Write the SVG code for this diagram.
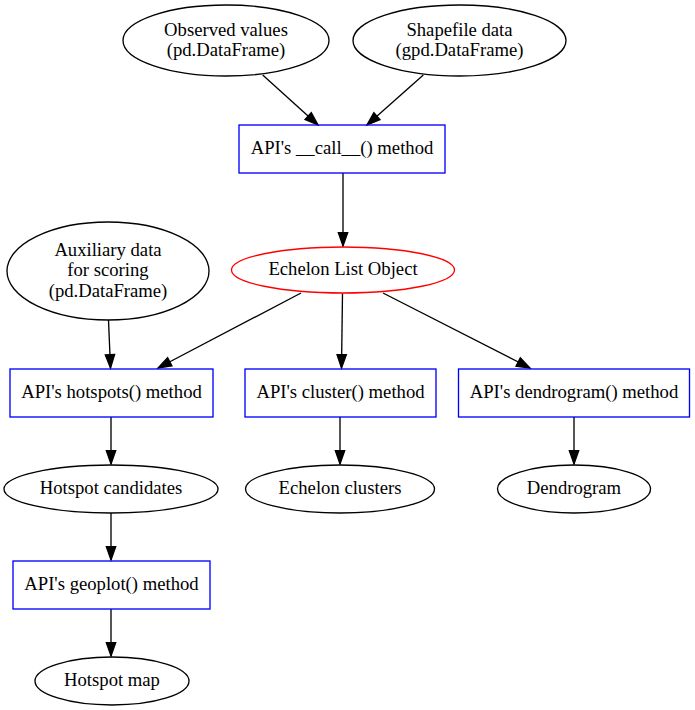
<svg xmlns="http://www.w3.org/2000/svg" width="695" height="710" viewBox="0 0 695 710">
<style>
text{font-family:"Liberation Serif","Times New Roman",serif;font-size:18.67px;text-anchor:middle;fill:#000}
.e{fill:none;stroke:#000;stroke-width:1.33}
.b{fill:none;stroke:#0000ff;stroke-width:1.33}
.r{fill:none;stroke:#ff0000;stroke-width:1.33}
.c line{stroke:#000;stroke-width:1.33;marker-end:url(#ah)}
</style>
<defs>
<marker id="ah" markerUnits="userSpaceOnUse" markerWidth="16" markerHeight="12" refX="13.3" refY="4.67" orient="auto" overflow="visible">
<path d="M0,0 L13.3,4.67 L0,9.33 Z" fill="#000" stroke="#000" stroke-width="1.33" stroke-linejoin="miter"/>
</marker>
</defs>
<rect width="695" height="710" fill="#fff"/>
<g class="c" id="connectors">
<line x1="262.7" y1="75" x2="318" y2="125"/>
<line x1="423.3" y1="75" x2="367" y2="125"/>
<line x1="343" y1="173" x2="343" y2="246"/>
<line x1="108.5" y1="320" x2="110.5" y2="368"/>
<line x1="301" y1="293" x2="158" y2="368"/>
<line x1="342.5" y1="293.5" x2="341.5" y2="368"/>
<line x1="383" y1="293" x2="530" y2="368"/>
<line x1="111" y1="417" x2="111" y2="464"/>
<line x1="340" y1="417" x2="340" y2="464"/>
<line x1="574" y1="417" x2="574" y2="464"/>
<line x1="111" y1="513" x2="111" y2="560"/>
<line x1="111" y1="609" x2="111" y2="656"/>
</g>
<g id="observed"><ellipse class="e" cx="226" cy="40.5" rx="103" ry="35.5"/><text x="226" y="35.5">Observed values</text><text x="226" y="56">(pd.DataFrame)</text></g>
<g id="shapefile"><ellipse class="e" cx="459.5" cy="40.5" rx="106.5" ry="35.5"/><text x="459.5" y="35.5">Shapefile data</text><text x="459.5" y="56">(gpd.DataFrame)</text></g>
<g id="call"><rect class="b" x="239" y="125" width="206" height="48"/><text x="342" y="154">API's __call__() method</text></g>
<g id="echelon"><ellipse class="r" cx="343" cy="270" rx="111.5" ry="23"/><text x="343" y="275">Echelon List Object</text></g>
<g id="auxiliary"><ellipse class="e" cx="108" cy="271" rx="101" ry="49"/><text x="108" y="255.5">Auxiliary data</text><text x="108" y="276">for scoring</text><text x="108" y="296.5">(pd.DataFrame)</text></g>
<g id="hotspots"><rect class="b" x="10" y="369" width="203" height="48"/><text x="111.5" y="398">API's hotspots() method</text></g>
<g id="cluster"><rect class="b" x="245" y="369" width="191" height="48"/><text x="340.5" y="398">API's cluster() method</text></g>
<g id="dendrogram"><rect class="b" x="458.5" y="369" width="231" height="48"/><text x="574" y="398">API's dendrogram() method</text></g>
<g id="candidates"><ellipse class="e" cx="111" cy="489" rx="107" ry="24"/><text x="111" y="494">Hotspot candidates</text></g>
<g id="clusters"><ellipse class="e" cx="340" cy="489" rx="94.5" ry="24"/><text x="340" y="494">Echelon clusters</text></g>
<g id="dendro"><ellipse class="e" cx="574" cy="489" rx="76.5" ry="24"/><text x="574" y="494">Dendrogram</text></g>
<g id="geoplot"><rect class="b" x="13" y="561" width="197" height="48"/><text x="111.5" y="590">API's geoplot() method</text></g>
<g id="map"><ellipse class="e" cx="112" cy="681" rx="77" ry="24"/><text x="112" y="686">Hotspot map</text></g>
</svg>
